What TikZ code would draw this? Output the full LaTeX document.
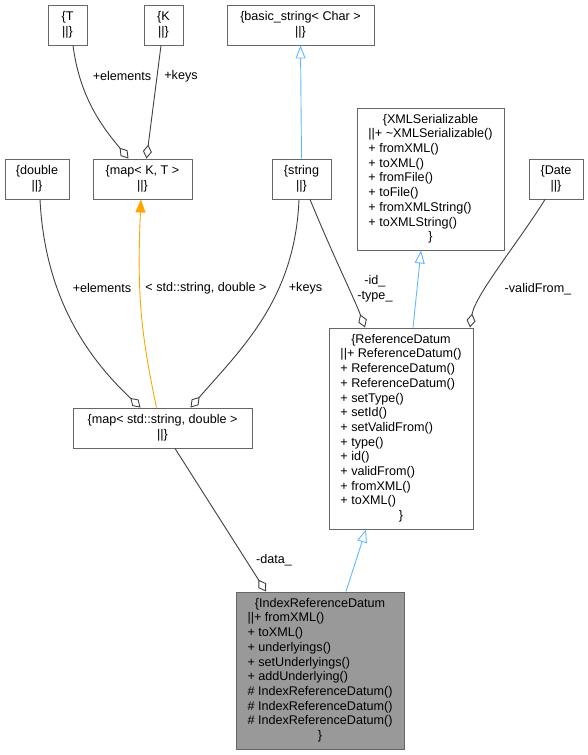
\documentclass[tikz,border=0pt]{standalone}
\usepackage{fontspec}
\setmainfont{Liberation Sans}
\usetikzlibrary{arrows.meta}

\definecolor{boxgray}{HTML}{666666}
\definecolor{edgegray}{HTML}{404040}
\definecolor{inhblue}{HTML}{63B8FF}
\definecolor{tmplorange}{HTML}{FFA500}
\definecolor{focusgray}{HTML}{999999}

\newcommand\dgfont{\fontsize{12.6}{14.7}\selectfont}
\newcommand\clsbody[1]{\begin{tabular}{@{}l@{}}#1\end{tabular}}
\newcommand\centred[1]{\multicolumn{1}{@{}c@{}}{#1}}

\begin{document}
\begin{tikzpicture}[x=1pt,y=-1pt,
  cls/.style={draw=boxgray, fill=white, line width=0.9pt, inner sep=0pt, font=\dgfont, align=center},
  lbl/.style={font=\dgfont, inner sep=0pt, align=center},
  agg/.style={draw=edgegray, line width=0.9pt, -{Diamond[open,fill=white,length=14pt,width=9pt]}},
  inh/.style={draw=inhblue, line width=0.9pt, -{Triangle[open,fill=white,length=13pt,width=10pt]}},
  tmpl/.style={draw=tmplorange, line width=0.9pt, -{Triangle[length=13pt,width=10pt]}}]
  \useasboundingbox (0,0) rectangle (588,755);

  \node[cls, minimum width=39, minimum height=40] (T) at (67.5,25) {\{T\\||\}};
  \node[cls, minimum width=39, minimum height=40] (K) at (163.5,25) {\{K\\||\}};
  \node[cls, minimum width=147, minimum height=40] (basicstr) at (300.5,25) {\{basic\_string< Char >\\||\}};

  \node[cls, minimum width=64, minimum height=40] (dbl) at (37,179) {\{double\\||\}};
  \node[cls, minimum width=99, minimum height=40] (mapKT) at (142.5,179) {\{map< K, T >\\||\}};
  \node[cls, minimum width=59, minimum height=40] (str) at (301.5,179) {\{string\\||\}};
  \node[cls, minimum width=147, minimum height=142] (xmlser) at (430.5,179) {\clsbody{%
    \centred{\{XMLSerializable}\\
    ||+ \textasciitilde XMLSerializable()\\
    + fromXML()\\
    + toXML()\\
    + fromFile()\\
    + toFile()\\
    + fromXMLString()\\
    + toXMLString()\\
    \centred{\}}}};
  \node[cls, minimum width=54, minimum height=40] (date) at (556,179) {\{Date\\||\}};

  \node[cls, minimum width=179, minimum height=40] (mapSD) at (162.5,428) {\{map< std::string, double >\\||\}};
  \node[cls, minimum width=144, minimum height=201] (refdatum) at (401,428.5) {\clsbody{%
    \centred{\{ReferenceDatum}\\
    ||+ ReferenceDatum()\\
    + ReferenceDatum()\\
    + ReferenceDatum()\\
    + setType()\\
    + setId()\\
    + setValidFrom()\\
    + type()\\
    + id()\\
    + validFrom()\\
    + fromXML()\\
    + toXML()\\
    \centred{\}}}};

  \node[cls, fill=focusgray, minimum width=168, minimum height=157] (idxref) at (320,670.5) {\clsbody{%
    \centred{\{IndexReferenceDatum}\\
    ||+ fromXML()\\
    + toXML()\\
    + underlyings()\\
    + setUnderlyings()\\
    + addUnderlying()\\
    \# IndexReferenceDatum()\\
    \# IndexReferenceDatum()\\
    \# IndexReferenceDatum()\\
    \centred{\}}}};

  \draw[agg] ([xshift=5.5pt]T.south) .. controls (80,100) and (105,130) .. ([xshift=-14pt]mapKT.north);
  \draw[agg] ([xshift=-2.5pt]K.south) -- ([xshift=4pt]mapKT.north);
  \draw[tmpl] ([xshift=-6pt]mapSD.north) .. controls (140,330) and (137,290) .. ([xshift=-1.5pt]mapKT.south);
  \draw[agg] ([xshift=3pt]dbl.south) .. controls (45,300) and (90,360) .. ([xshift=-22pt]mapSD.north);
  \draw[agg] ([xshift=-2.5pt]str.south) .. controls (295,300) and (240,350) .. ([xshift=28pt]mapSD.north);
  \draw[inh] (str.north) -- (basicstr.south);
  \draw[agg] ([xshift=8.5pt]str.south) .. controls (335,260) and (355,300) .. ([xshift=-36pt]refdatum.north);
  \draw[inh] ([xshift=12pt]refdatum.north) -- ([xshift=-9.5pt]xmlser.south);
  \draw[agg] ([xshift=-11pt]date.south) .. controls (520,240) and (475,295) .. ([xshift=69pt]refdatum.north);
  \draw[agg] ([xshift=12.5pt]mapSD.south) -- ([xshift=-54pt]idxref.north);
  \draw[inh] ([xshift=26pt]idxref.north) -- ([xshift=-35pt]refdatum.south);

  \node[lbl] (lbltop1) at (122,76) {+elements};
  \node[lbl] (lbltop2) at (181,76) {+keys};
  \node[lbl] (lblmid1) at (102,288) {+elements};
  \node[lbl] (lblmid2) at (206,288) {< std::string, double >};
  \node[lbl] (lblmid3) at (305.5,288) {+keys};
  \node[lbl] (lblidtype) at (375,288.5) {-id\_\\-type\_};
  \node[lbl] (lblvalid) at (538,289) {-validFrom\_};
  \node[lbl] (lbldata) at (274,560) {-data\_};
\end{tikzpicture}
\end{document}
